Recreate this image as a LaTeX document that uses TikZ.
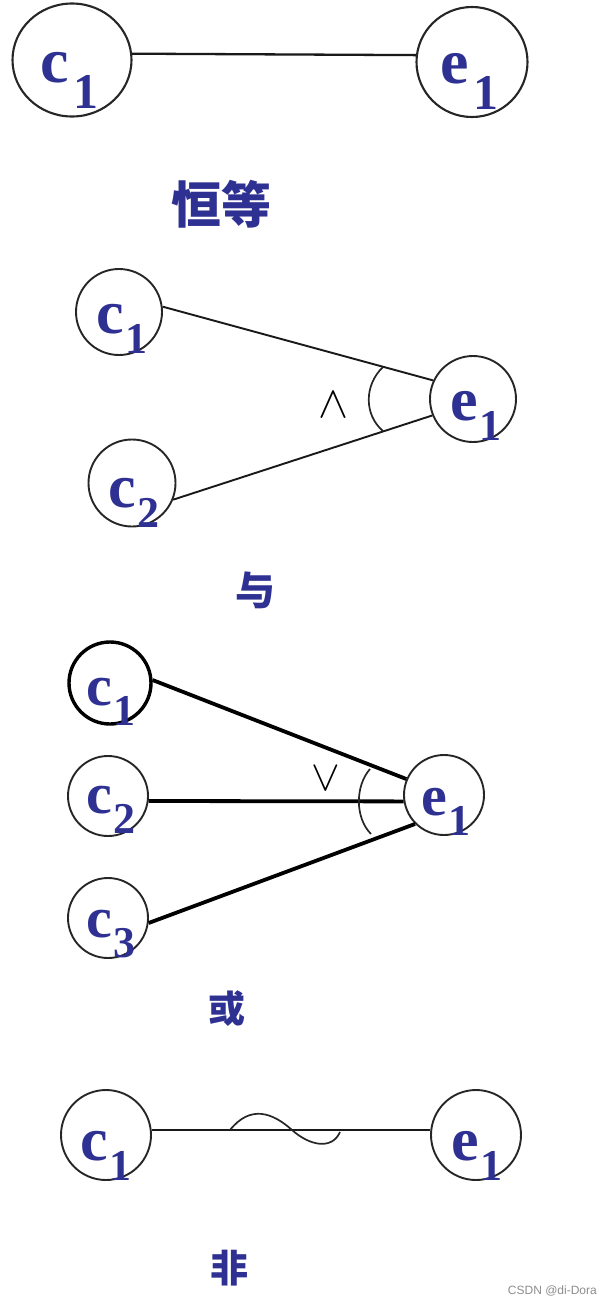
\documentclass[tikz,border=0pt]{standalone}
\usepackage{fontspec}
\setmainfont{Liberation Serif}
\newfontfamily\cjk{Noto Sans CJK SC}
\newfontfamily\wmfont{Liberation Sans}
\usetikzlibrary{shapes.geometric}
\definecolor{lblue}{RGB}{46,49,146}
\newcommand{\clab}[2]{#1\kern1.5pt\raisebox{-20pt}{\fontsize{44}{44}\selectfont\bfseries #2}}
\newcommand{\clabbig}[2]{#1\kern5pt\raisebox{-26pt}{\fontsize{50}{50}\selectfont\bfseries #2}}
\begin{document}
\begin{tikzpicture}[x=1pt,y=-1pt,
  circ/.style={circle, draw=black!85, line width=1.9pt, inner sep=0pt, minimum size=#1},
  ell/.style={ellipse, draw=black!85, line width=2.1pt, inner sep=0pt},
  lbl/.style={anchor=base west, inner sep=0pt, text=lblue, font=\fontsize{62}{62}\selectfont\bfseries},
  slbl/.style={anchor=base west, inner sep=0pt, text=lblue, font=\fontsize{58}{58}\selectfont\bfseries},
  conn/.style={draw=black!90, line width=1.9pt},
  bconn/.style={draw=black, line width=3.8pt},
  arcline/.style={draw=black!85, line width=1.7pt},
  cjklbl/.style={text=lblue, inner sep=0pt, font=\cjk\fontsize{38}{38}\selectfont\bfseries}]
\useasboundingbox (0,0) rectangle (608,1304);

% ---- identity
\node[ell, minimum width=119pt, minimum height=113pt] (ac) at (72,60) {};
\node[ell, minimum width=111pt, minimum height=110pt] (ae) at (472,62) {};
\draw[conn, line width=2.3pt] (ac.6) -- (ae.173);
\node[lbl, font=\fontsize{64}{64}\selectfont\bfseries] (act) at (40,82) {\clabbig{c}{1}};
\node[lbl, font=\fontsize{64}{64}\selectfont\bfseries] (aet) at (440,83) {\clabbig{e}{1}};
\node[cjklbl, font=\cjk\fontsize{50}{50}\selectfont\bfseries] (atitle) at (221,204) {恒等};

% ---- and
\node[circ=86pt] (bc1) at (119,312) {};
\node[circ=87pt] (bc2) at (132,483) {};
\node[circ=86pt] (be) at (473,399) {};
\draw[conn] (bc1.7) -- (be.155);
\draw[conn] (bc2.-22) -- (be.-158);
\draw[arcline] (383,367) .. controls (364,385) and (364,415) .. (383,431);
\node[inner sep=0pt] (band) at (333,405) {\scalebox{4.5}{$\wedge$}};
\node[lbl] (bc1t) at (96,333) {\clab{c}{1}};
\node[lbl] (bc2t) at (108,507) {\clab{c}{2}};
\node[lbl] (bet) at (450,420) {\clab{e}{1}};
\node[cjklbl, font=\cjk\fontsize{40}{40}\selectfont\bfseries] (btitle) at (255,590) {与};

% ---- or
\node[circ=82pt, line width=3.4pt, draw=black] (cc1) at (110,683) {};
\node[circ=80pt] (cc2) at (108,796) {};
\node[circ=80pt] (cc3) at (108,918) {};
\node[circ=80pt] (ce) at (444,795) {};
\draw[bconn] (cc1.4) -- (ce.157);
\draw[bconn] (cc2.-7) -- (ce.-171);
\draw[bconn] (cc3.-7) -- (ce.-135);
\draw[arcline] (370,769) .. controls (355,786) and (355,818) .. (371,834);
\node[inner sep=0pt] (cor) at (326,779) {\scalebox{4.3}{$\vee$}};
\node[slbl] (cc1t) at (86,705) {\clab{c}{1}};
\node[slbl] (cc2t) at (86,813) {\clab{c}{2}};
\node[slbl] (cc3t) at (86,937) {\clab{c}{3}};
\node[slbl] (cet) at (421,815) {\clab{e}{1}};
\node[cjklbl, font=\cjk\fontsize{37}{37}\selectfont\bfseries] (ctitle) at (227,1009) {或};

% ---- not
\node[circ=90pt] (dc) at (106,1135) {};
\node[circ=90pt] (de) at (476,1135) {};
\draw[conn] (dc.6) -- (de.174);
\draw[arcline] (230,1130) .. controls (250,1105) and (272,1112) .. (292,1130)
  .. controls (310,1146) and (332,1150) .. (340,1132);
\node[lbl] (dct) at (80,1160) {\clab{c}{1}};
\node[lbl] (det) at (451,1160) {\clab{e}{1}};
\node[cjklbl, font=\cjk\fontsize{38}{38}\selectfont\bfseries] (dtitle) at (229,1268) {非};

\node[anchor=base east, inner sep=0pt, text=black!45, font=\wmfont\fontsize{12}{12}\selectfont] (wm) at (597,1294) {CSDN @di-Dora};
\end{tikzpicture}
\end{document}
